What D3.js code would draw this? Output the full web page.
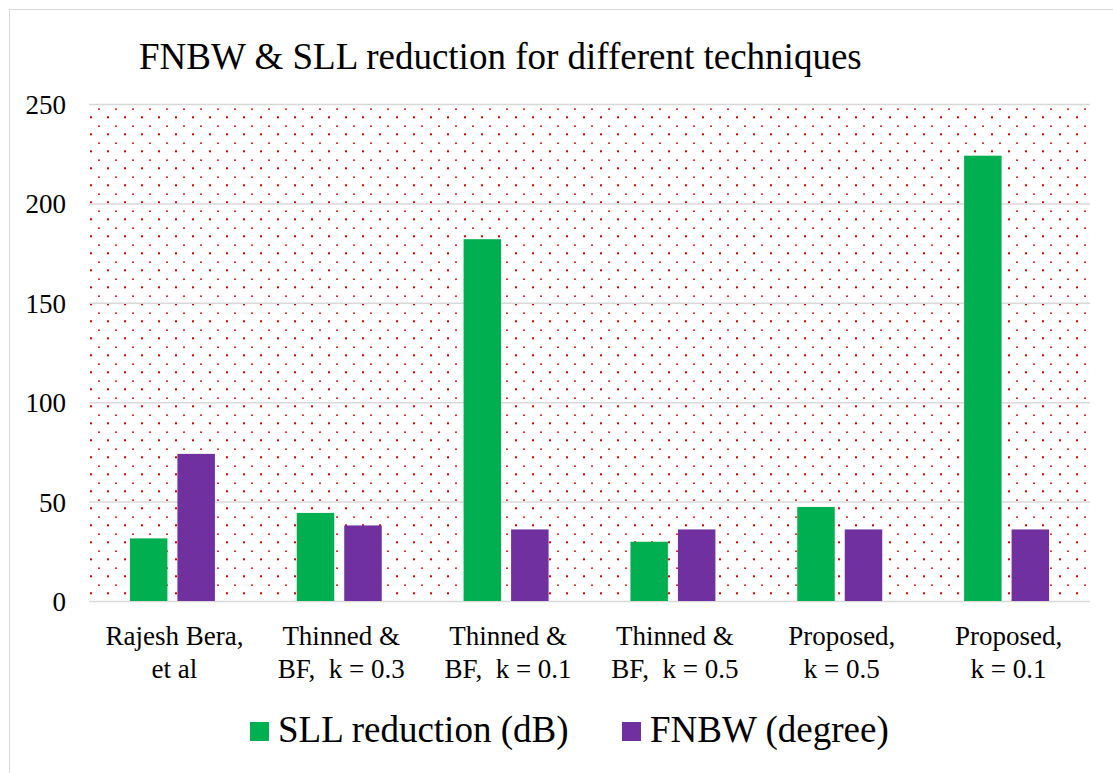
<!DOCTYPE html>
<html>
<head>
<meta charset="utf-8">
<script src="https://cdn.jsdelivr.net/npm/d3@7"></script>
<style>
  body { margin: 0; background: #fff; }
  svg text { font-family: "Liberation Serif", "Times New Roman", serif; fill: #000; }
</style>
</head>
<body>
<div id="chart"></div>
<script>
// data
const categories = [
  ['Rajesh Bera,', 'et al'],
  ['Thinned &', 'BF,  k = 0.3'],
  ['Thinned &', 'BF,  k = 0.1'],
  ['Thinned &', 'BF,  k = 0.5'],
  ['Proposed,', 'k = 0.5'],
  ['Proposed,', 'k = 0.1']
]
const seriesNames = ['SLL reduction (dB)', 'FNBW (degree)']
const sllValues = [31.5, 44.3, 182, 29.8, 47.3, 224]
const fnbwValues = [74, 38, 36, 36, 36, 36]
const yTicks = [0, 50, 100, 150, 200, 250]
const colors = ['#00B050', '#7030A0']

const rows = categories.map((c, i) => ({ key: i, label: c, values: [sllValues[i], fnbwValues[i]] }))

const serif = '"Liberation Serif", "Times New Roman", serif'
const dims = { width: 1113, height: 773 }
const plot = { left: 89, right: 1090, top: 104, bottom: 601 }

const svg = d3.select('#chart')
  .append('svg')
  .attr('width', dims.width)
  .attr('height', dims.height)
  .attr('font-family', serif)

// dotted background pattern
const defs = svg.append('defs')
const pat = defs.append('pattern')
  .attr('id', 'dots')
  .attr('patternUnits', 'userSpaceOnUse')
  .attr('x', 90).attr('y', 108)
  .attr('width', 17).attr('height', 17)
pat.append('rect').attr('x', 8).attr('y', 0.5).attr('width', 2).attr('height', 1.3).attr('fill', '#d40000')
pat.append('rect').attr('x', 0).attr('y', 8.3).attr('width', 2).attr('height', 2).attr('fill', '#d40000')

// outer frame
svg.append('rect')
  .attr('x', 9.5).attr('y', 9.5)
  .attr('width', dims.width + 20).attr('height', dims.height + 20)
  .attr('fill', 'none')
  .attr('stroke', '#d9d9d9')
  .attr('stroke-width', 1)

// scales
const x0 = d3.scaleBand()
  .domain(rows.map(d => d.key))
  .range([plot.left, plot.right])
  .padding(0)

const groupW = 85
const x1 = d3.scaleBand()
  .domain([0, 1])
  .range([(x0.bandwidth() - groupW) / 2, (x0.bandwidth() + groupW) / 2])
  .paddingInner(0.2105)

const y = d3.scaleLinear()
  .domain([0, 250])
  .range([plot.bottom, plot.top])

svg.append('rect')
  .attr('x', plot.left).attr('y', plot.top)
  .attr('width', plot.right - plot.left).attr('height', plot.bottom - plot.top)
  .attr('fill', 'url(#dots)')

// gridlines + y labels
const yAxis = d3.axisLeft(y)
  .tickValues(yTicks)
  .tickSize(-(plot.right - plot.left))
  .tickPadding(23)

const yg = svg.append('g')
  .attr('transform', `translate(${plot.left}, 0)`)
  .call(yAxis)
  .attr('font-family', serif)
yg.select('.domain').remove()
yg.selectAll('.tick line')
  .attr('stroke', '#d9d9d9')
  .attr('stroke-width', 1.5)
yg.selectAll('.tick text')
  .style('font-family', serif)
  .style('font-size', '27px')
  .attr('fill', '#000')
  .attr('dy', '0.35em')

// bars
const groups = svg.selectAll('g.grp')
  .data(rows)
  .join('g')
  .attr('class', 'grp')
  .attr('transform', d => `translate(${x0(d.key)}, 0)`)

groups.selectAll('rect')
  .data(d => d.values.map((v, i) => ({ s: i, v: v })))
  .join('rect')
  .attr('x', d => x1(d.s))
  .attr('y', d => y(d.v))
  .attr('width', x1.bandwidth())
  .attr('height', d => y(0) - y(d.v))
  .attr('fill', d => colors[d.s])

// category labels
const labels = svg.append('g')
  .selectAll('text')
  .data(rows)
  .join('text')
  .attr('text-anchor', 'middle')
  .style('font-family', serif)
  .style('font-size', '27px')
  .style('white-space', 'pre')
labels.selectAll('tspan')
  .data(d => d.label.map(l => ({ l: l, cx: x0(d.key) + x0.bandwidth() / 2 + 2 })))
  .join('tspan')
  .attr('x', d => d.cx)
  .attr('y', (d, i) => 645 + i * 33)
  .text(d => d.l)

// title
svg.append('text')
  .attr('x', 139)
  .attr('y', 69)
  .style('font-family', serif)
  .style('font-size', '37px')
  .text('FNBW & SLL reduction for different techniques')

// legend
const legendX = [250, 622]
const leg = svg.append('g')
  .selectAll('g')
  .data(seriesNames)
  .join('g')
  .attr('transform', (d, i) => `translate(${legendX[i]}, 722)`)
leg.append('rect')
  .attr('width', 19).attr('height', 19)
  .attr('fill', (d, i) => colors[i])
leg.append('text')
  .attr('x', 28)
  .attr('y', 20)
  .style('font-family', serif)
  .style('font-size', '37px')
  .text(d => d)
</script>
</body>
</html>
